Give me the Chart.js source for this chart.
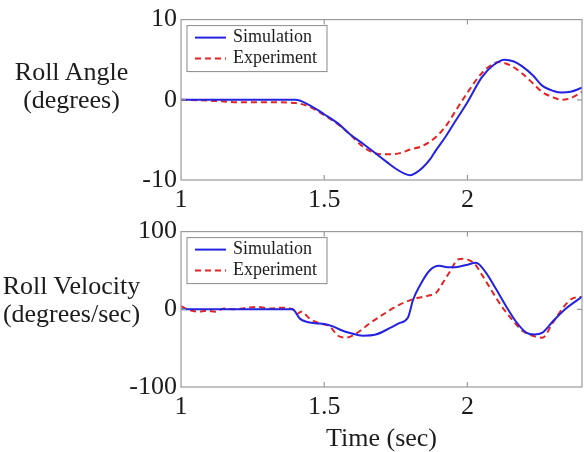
<!DOCTYPE html>
<html>
<head>
<meta charset="utf-8">
<script src="https://cdn.jsdelivr.net/npm/chart.js@4/dist/chart.umd.min.js"></script>
<style>
  body { margin: 0; background: #fff; }
  #wrap { position: relative; width: 584px; height: 452px; font-family: "Liberation Serif", serif; color: #1c1c1c; }
  canvas { position: absolute; left: 0; }
  .ylab { position: absolute; left: 0; width: 143px; text-align: center; font-size: 26px; line-height: 28px; }
</style>
</head>
<body>
<div id="wrap">
  <canvas id="angleChart" width="584" height="212" style="top:0"></canvas>
  <canvas id="velChart" width="584" height="240" style="top:212px"></canvas>
  <div class="ylab" style="top:58px">Roll Angle<br>(degrees)</div>
  <div class="ylab" style="top:272px">Roll Velocity<br>(degrees/sec)</div>
</div>
<script>
// time axis
const xTicks = [1, 1.5, 2];
const xMin = 1, xMax = 2.4;

// roll angle (degrees)
const angleSimT = [1.0, 1.2, 1.40, 1.45, 1.5, 1.55, 1.59, 1.64, 1.68, 1.72, 1.75, 1.78, 1.80, 1.82, 1.845, 1.87, 1.89, 1.92, 1.95, 2.0, 2.05, 2.09, 2.13, 2.16, 2.19, 2.23, 2.26, 2.30, 2.33, 2.36, 2.40];
const angleSimV = [0, 0, 0, -0.7, -1.8, -3.0, -4.3, -5.6, -6.7, -7.8, -8.6, -9.2, -9.4, -9.1, -8.4, -7.4, -6.3, -4.8, -3.1, -0.3, 2.8, 4.3, 5.0, 4.8, 4.2, 3.0, 1.8, 1.1, 0.9, 1.0, 1.5];
const angleExpT = [1.0, 1.1, 1.2, 1.3, 1.4, 1.45, 1.5, 1.55, 1.59, 1.63, 1.66, 1.70, 1.73, 1.77, 1.80, 1.84, 1.87, 1.90, 1.93, 1.96, 2.0, 2.04, 2.07, 2.11, 2.15, 2.19, 2.23, 2.26, 2.30, 2.33, 2.36, 2.40];
const angleExpV = [0, -0.1, -0.3, -0.3, -0.4, -0.9, -1.9, -3.1, -4.3, -5.7, -6.4, -6.8, -6.8, -6.6, -6.2, -5.8, -5.2, -4.3, -3.0, -1.3, 0.9, 2.9, 4.0, 4.7, 4.3, 3.3, 2.0, 1.0, 0.3, 0.0, 0.2, 1.0];
const angleTicks = [-10, 0, 10];

// roll velocity (degrees/sec)
const velSimT = [1.0, 1.2, 1.389, 1.415, 1.438, 1.47, 1.50, 1.53, 1.56, 1.59, 1.635, 1.68, 1.73, 1.76, 1.792, 1.81, 1.833, 1.868, 1.902, 1.93, 1.95, 1.996, 2.03, 2.065, 2.10, 2.135, 2.17, 2.205, 2.233, 2.262, 2.297, 2.344, 2.40];
const velSimV = [0, 0, 0, -12, -16, -18, -19, -22, -27, -30.5, -34, -32.5, -24, -18, -11, 12, 30, 50, 56, 54, 54, 57, 60, 47, 26, 4, -16, -30, -32.5, -30, -16, 1, 16];
const velExpT = [1.0, 1.03, 1.06, 1.09, 1.12, 1.15, 1.19, 1.23, 1.27, 1.31, 1.35, 1.39, 1.405, 1.42, 1.449, 1.484, 1.519, 1.548, 1.577, 1.612, 1.659, 1.717, 1.763, 1.81, 1.868, 1.89, 1.914, 1.943, 1.966, 1.99, 2.007, 2.024, 2.053, 2.088, 2.123, 2.158, 2.193, 2.228, 2.262, 2.297, 2.338, 2.367, 2.40];
const velExpV = [4, -1, -3, -2, -3, 1, 0, 2, 3, 1, 2, 0, -6, -3, -12, -18, -22, -34, -36.5, -31, -18, -4, 6, 13, 18, 21, 34, 51, 64, 65, 63, 59, 43, 22, 2, -14, -28, -34, -36.5, -18, 4, 14, 16];
const velTicks = [-100, 0, 100];

const seriesNames = ['Simulation', 'Experiment'];
const simColor = 'rgb(35,35,225)';
const expColor = 'rgb(230,35,35)';
const serif = '"Liberation Serif", "Times New Roman", serif';
const textColor = '#1c1c1c';

function pts(ts, vs) {
  return ts.map((t, i) => ({ x: t, y: vs[i] }));
}

// grey box round the plot, inward tick marks, MATLAB-like legend
const framePlugin = {
  id: 'frame',
  afterDraw(chart) {
    const ctx = chart.ctx;
    const a = chart.chartArea;
    const xs = chart.scales.x, ys = chart.scales.y;
    ctx.save();
    ctx.strokeStyle = '#9a9a9a';
    ctx.lineWidth = 1.2;
    ctx.strokeRect(a.left, a.top, a.right - a.left, a.bottom - a.top);
    ctx.beginPath();
    xs.ticks.forEach(t => {
      const px = xs.getPixelForValue(t.value);
      if (px <= a.left + 1 || px >= a.right - 1) return;
      ctx.moveTo(px, a.bottom); ctx.lineTo(px, a.bottom - 5);
      ctx.moveTo(px, a.top); ctx.lineTo(px, a.top + 5);
    });
    ys.ticks.forEach(t => {
      const py = ys.getPixelForValue(t.value);
      if (py <= a.top + 1 || py >= a.bottom - 1) return;
      ctx.moveTo(a.left, py); ctx.lineTo(a.left + 5, py);
      ctx.moveTo(a.right, py); ctx.lineTo(a.right - 5, py);
    });
    ctx.stroke();

    // legend box
    const bx = a.left + 6, by = a.top + 6, bw = 140, bh = 46;
    ctx.fillStyle = '#fff';
    ctx.fillRect(bx, by, bw, bh);
    ctx.strokeStyle = '#8a8a8a';
    ctx.lineWidth = 1;
    ctx.strokeRect(bx, by, bw, bh);
    ctx.font = '18px ' + serif;
    ctx.textBaseline = 'middle';
    chart.data.datasets.forEach((ds, i) => {
      const ly = by + 12 + i * 21;
      ctx.strokeStyle = ds.borderColor;
      ctx.lineWidth = 2;
      ctx.setLineDash(ds.borderDash || []);
      ctx.beginPath();
      ctx.moveTo(bx + 8, ly); ctx.lineTo(bx + 39, ly);
      ctx.stroke();
      ctx.setLineDash([]);
      ctx.fillStyle = textColor;
      ctx.fillText(ds.label, bx + 46, ly);
    });
    ctx.restore();
  }
};

function makeChart(id, sim, exp, yTicks, padTop, xHeight, showTitle) {
  const ctx = document.getElementById(id).getContext('2d');
  return new Chart(ctx, {
    type: 'line',
    data: {
      datasets: [
        { label: seriesNames[0], data: sim, borderColor: simColor, borderWidth: 2, pointRadius: 0, cubicInterpolationMode: 'monotone' },
        { label: seriesNames[1], data: exp, borderColor: expColor, borderWidth: 2, borderDash: [6, 4], pointRadius: 0, cubicInterpolationMode: 'monotone' }
      ]
    },
    options: {
      responsive: false,
      animation: false,
      layout: { padding: { top: padTop, right: 2, left: 0, bottom: 0 } },
      plugins: { legend: { display: false }, tooltip: { enabled: false } },
      scales: {
        x: {
          type: 'linear', min: xMin, max: xMax,
          afterBuildTicks: s => { s.ticks = xTicks.map(v => ({ value: v })); },
          afterFit: s => { s.height = xHeight; },
          grid: { display: false, drawTicks: false },
          border: { display: false },
          ticks: { padding: 5, color: textColor, font: { family: serif, size: 26 }, maxRotation: 0, callback: v => String(v) },
          title: { display: showTitle, text: 'Time (sec)', color: textColor, font: { family: serif, size: 26, lineHeight: 1 }, padding: { top: 0, bottom: 0 } }
        },
        y: {
          min: yTicks[0], max: yTicks[yTicks.length - 1],
          afterBuildTicks: s => { s.ticks = yTicks.map(v => ({ value: v })); },
          afterFit: s => { s.width = 181; },
          grid: { display: false, drawTicks: false },
          border: { display: false },
          ticks: { padding: 4, color: textColor, font: { family: serif, size: 26 }, callback: v => String(v) }
        }
      }
    },
    plugins: [framePlugin]
  });
}

makeChart('angleChart', pts(angleSimT, angleSimV), pts(angleExpT, angleExpV), angleTicks, 15, 32, false);
makeChart('velChart', pts(velSimT, velSimV), pts(velExpT, velExpV), velTicks, 11, 65, true);
</script>
</body>
</html>
